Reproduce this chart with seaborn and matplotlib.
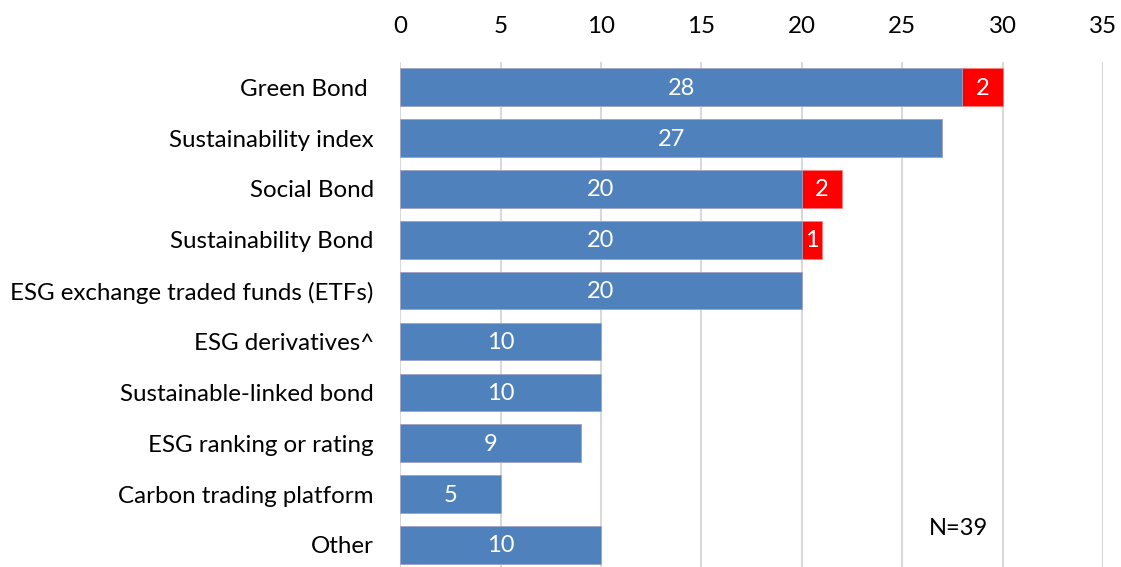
import matplotlib
matplotlib.use("Agg")
import matplotlib.pyplot as plt
import seaborn as sns
import pandas as pd

categories = ["Green Bond ", "Sustainability index", "Social Bond", "Sustainability Bond",
              "ESG exchange traded funds (ETFs)", "ESG derivatives^", "Sustainable-linked bond",
              "ESG ranking or rating", "Carbon trading platform", "Other"]
blue_vals = [28, 27, 20, 20, 20, 10, 10, 9, 5, 10]
red_vals = [2, 0, 2, 1, 0, 0, 0, 0, 0, 0]
x_ticks = [0, 5, 10, 15, 20, 25, 30, 35]

sns.set_theme(style="white")
plt.rcParams['font.family'] = ['Lato', 'DejaVu Sans']

df = pd.DataFrame({"cat": categories, "blue": blue_vals,
                   "total": [b + r for b, r in zip(blue_vals, red_vals)]})

fig = plt.figure(figsize=(11.21, 5.67), dpi=100)
ax = fig.add_axes([0.357, -0.006, 0.627, 0.897])

for x in x_ticks:
    ax.axvline(x, color="#D9D9D9", lw=1.5, zorder=0)

sns.barplot(data=df, y="cat", x="total", color="#FF0000", orient="h", width=0.74,
            ax=ax, saturation=1, edgecolor="#FF8080", linewidth=0.5, zorder=2)
sns.barplot(data=df, y="cat", x="blue", color="#4F81BD", orient="h", width=0.74,
            ax=ax, saturation=1, edgecolor="#9DB7DA", linewidth=0.5, zorder=3)

for i, (b, r) in enumerate(zip(blue_vals, red_vals)):
    ax.text(b / 2, i + 0.02, str(b), color="white", ha="center", va="center", fontsize=17, zorder=4)
    if r > 0:
        ax.text(b + r / 2, i + 0.02, str(r), color="white", ha="center", va="center", fontsize=17, zorder=4)

ax.text(27.8, 8.68, "N=39", color="black", ha="center", va="center", fontsize=17)

ax.set_xlim(0, 35)
ax.set_ylim(9.5, -0.5)
ax.set_xticks(x_ticks)
ax.xaxis.tick_top()
ax.xaxis.set_label_position("top")
ax.set_xlabel("")
ax.set_ylabel("")
ax.tick_params(axis="x", length=0, pad=18, labelsize=17.4, colors="black")
ax.tick_params(axis="y", length=0, pad=19, labelsize=17.4, colors="black")
for s in ax.spines.values():
    s.set_visible(False)
ax.grid(False)

fig.savefig("out.png", dpi=100)
